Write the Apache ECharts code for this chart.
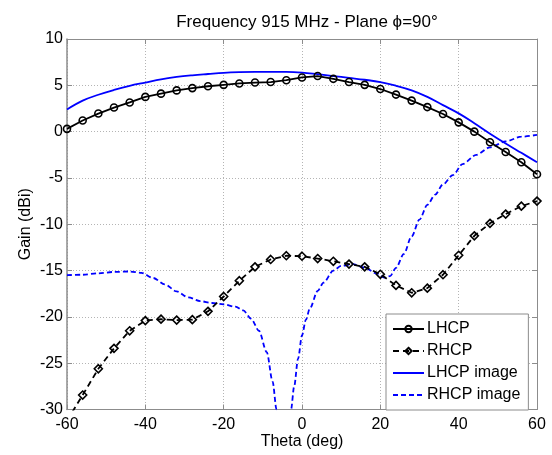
<!DOCTYPE html>
<html>
<head>
<meta charset="utf-8">
<script src="https://cdn.jsdelivr.net/npm/echarts@6/dist/echarts.min.js"></script>
<style>
  html, body { margin: 0; padding: 0; background: #fff; }
  #chart { width: 552px; height: 455px; }
</style>
</head>
<body>
<div id="chart"></div>
<script>
// measured data (theta in deg, gain in dBi)
var theta = [-60, -56, -52, -48, -44, -40, -36, -32, -28, -24, -20, -16, -12, -8, -4, 0,
             4, 8, 12, 16, 20, 24, 28, 32, 36, 40, 44, 48, 52, 56, 60];
var lhcp = [0.3, 1.2, 1.95, 2.6, 3.15, 3.75, 4.1, 4.45, 4.7, 4.9, 5.05, 5.2, 5.3, 5.35, 5.55, 5.85,
            6.0, 5.7, 5.35, 5.05, 4.6, 4.0, 3.35, 2.65, 1.9, 1.0, 0.0, -1.15, -2.2, -3.3, -4.6];
var rhcp = [-31.2, -28.44, -25.6, -23.4, -21.5, -20.4, -20.25, -20.35, -20.3, -19.4, -17.8, -16.1, -14.6, -13.8, -13.4, -13.45,
            -13.7, -14.0, -14.3, -14.6, -15.4, -16.6, -17.4, -16.9, -15.45, -13.35, -11.25, -9.9, -8.9, -8.05, -7.5];

// image curves
var lhcpImgTheta = [-60, -56, -52, -48, -44, -40, -36, -32, -28, -24, -20, -16, -12, -8, -4, 0,
                    4, 8, 12, 16, 20, 24, 28, 32, 36, 40, 44, 48, 52, 56, 60];
var lhcpImgGain = [2.4, 3.35, 3.98, 4.5, 4.95, 5.3, 5.65, 5.9, 6.08, 6.22, 6.35, 6.42, 6.45, 6.45, 6.45, 6.38,
                   6.2, 6.0, 5.8, 5.6, 5.35, 4.95, 4.45, 3.75, 2.86, 1.97, 0.91, -0.22, -1.28, -2.29, -3.3];

var rhcpImgTheta = [-60, -56, -52, -48, -44, -41, -38, -35, -32, -29, -26, -23, -20, -17, -15, -13, -11, -9, -7.5, -6.5,
                    -4.6, -2.8, -2, -1, 0, 1, 2, 4, 5.5, 8, 10, 13, 16, 19, 21, 22.5, 24, 26, 28, 30, 32, 34, 36,
                    38.5, 41, 44.5, 48, 52, 56, 60];
var rhcpImgGain = [-15.5, -15.45, -15.3, -15.15, -15.1, -15.25, -15.8, -16.5, -17.25, -17.9, -18.3, -18.5, -18.65, -18.9, -19.3, -20.2, -21.5, -23.8, -27, -30,
                   -40, -30, -27.5, -24.5, -22, -20.3, -19.1, -17.2, -16.3, -15.0, -14.5, -14.3, -14.7, -15.3, -15.75, -15.6, -14.7, -13.2, -11.3, -9.5, -7.9, -6.8, -5.7,
                   -4.7, -3.5, -2.5, -1.7, -1.05, -0.55, -0.35];

function pairs(xs, ys) {
  return xs.map(function (x, i) { return [x, ys[i]]; });
}

var font = 'Liberation Sans, Arial, sans-serif';
var boxColor = '#8c8c8c';

var myChart = echarts.init(document.getElementById('chart'));
var option = {
  backgroundColor: '#fff',
  animation: false,
  title: {
    text: 'Frequency 915 MHz - Plane \u03d5=90\u00b0',
    left: 302,
    top: 9,
    textAlign: 'center',
    textStyle: { fontFamily: font, fontSize: 17, fontWeight: 'normal', color: '#000' }
  },
  grid: { left: 67, right: 15, top: 39, bottom: 45.5 },
  legend: {
    orient: 'vertical',
    left: 386,
    top: 314,
    width: 146,
    padding: [7, 8, 7, 6],
    itemWidth: 31,
    itemHeight: 8,
    itemGap: 6,
    backgroundColor: '#fff',
    borderColor: boxColor,
    borderWidth: 1,
    textStyle: { fontFamily: font, fontSize: 16, lineHeight: 16, color: '#000', padding: [0, 0, 0, -2] },
    data: ['LHCP', 'RHCP', 'LHCP image', 'RHCP image']
  },
  xAxis: [{
    type: 'value',
    min: -60, max: 60, interval: 20,
    name: 'Theta (deg)',
    nameLocation: 'middle',
    nameGap: 24,
    nameMoveOverlap: false,
    nameTextStyle: { fontFamily: font, fontSize: 16, color: '#000', verticalAlign: 'top' },
    axisLine: { onZero: false, lineStyle: { color: boxColor, width: 1 } },
    axisTick: { inside: true, length: 5, lineStyle: { color: boxColor } },
    axisLabel: { fontFamily: font, fontSize: 16, color: '#000', margin: 7 },
    splitLine: { show: true, lineStyle: { color: '#b4b4b4', type: [1, 2], width: 1 } }
  }, {
    type: 'value',
    position: 'top',
    min: -60, max: 60, interval: 20,
    axisLine: { onZero: false, lineStyle: { color: boxColor, width: 1 } },
    axisTick: { inside: true, length: 5, lineStyle: { color: boxColor } },
    axisLabel: { show: false },
    splitLine: { show: false }
  }],
  yAxis: [{
    type: 'value',
    min: -30, max: 10, interval: 5,
    name: 'Gain (dBi)',
    nameLocation: 'middle',
    nameGap: 33,
    nameMoveOverlap: false,
    nameTextStyle: { fontFamily: font, fontSize: 16, color: '#000' },
    axisLine: { onZero: false, lineStyle: { color: boxColor, width: 1.5 } },
    axisTick: { inside: true, length: 5, lineStyle: { color: boxColor } },
    axisLabel: { fontFamily: font, fontSize: 16, color: '#000', margin: 4 },
    splitLine: { show: true, lineStyle: { color: '#b4b4b4', type: [1, 2], width: 1 } }
  }, {
    type: 'value',
    position: 'right',
    min: -30, max: 10, interval: 5,
    axisLine: { onZero: false, lineStyle: { color: boxColor, width: 1 } },
    axisTick: { inside: true, length: 5, lineStyle: { color: boxColor } },
    axisLabel: { show: false },
    splitLine: { show: false }
  }],
  series: [
    {
      name: 'LHCP image',
      type: 'line',
      data: pairs(lhcpImgTheta, lhcpImgGain),
      smooth: 0.4,
      symbol: 'none',
      lineStyle: { color: '#0000ff', width: 1.8 },
      itemStyle: { color: 'rgba(0,0,0,0)' },
      z: 2
    },
    {
      name: 'RHCP image',
      type: 'line',
      data: pairs(rhcpImgTheta, rhcpImgGain),
      smooth: 0.3,
      smoothMonotone: 'x',
      symbol: 'none',
      lineStyle: { color: '#0000ff', width: 1.8, type: [5, 3] },
      itemStyle: { color: 'rgba(0,0,0,0)' },
      z: 2
    },
    {
      name: 'LHCP',
      type: 'line',
      data: pairs(theta, lhcp),
      symbol: 'circle',
      symbolSize: 7,
      showAllSymbol: true,
      lineStyle: { color: '#000', width: 1.8 },
      itemStyle: { color: 'rgba(255,255,255,0)', borderColor: '#000', borderWidth: 1.6 },
      z: 3
    },
    {
      name: 'RHCP',
      type: 'line',
      data: pairs(theta, rhcp),
      symbol: 'diamond',
      symbolSize: 8,
      showAllSymbol: true,
      lineStyle: { color: '#000', width: 1.8, type: [6, 4] },
      itemStyle: { color: 'rgba(255,255,255,0)', borderColor: '#000', borderWidth: 1.6 },
      z: 3
    }
  ]
};
myChart.setOption(option);
</script>
</body>
</html>
